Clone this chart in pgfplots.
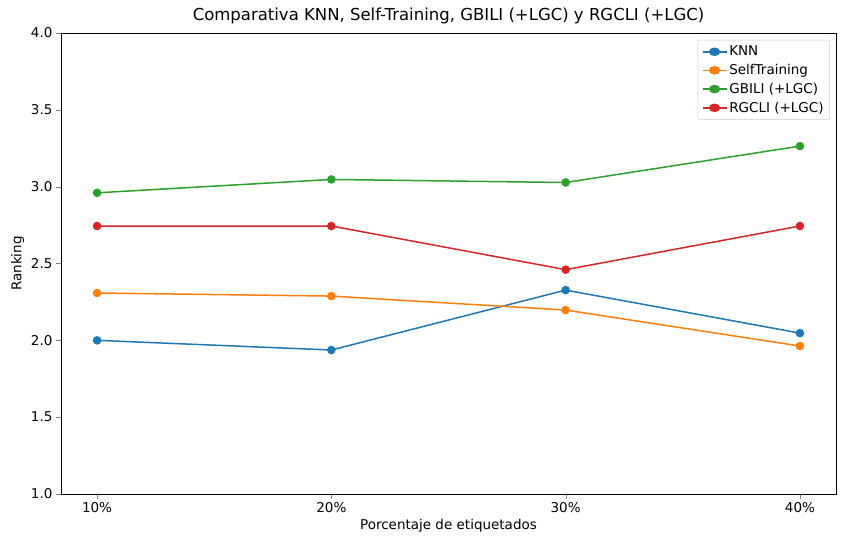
\documentclass[border=0pt]{standalone}
\usepackage{pgfplots}
\pgfplotsset{compat=1.18}
\usepackage{fontspec}
\setmainfont{DejaVu Sans}
\definecolor{c1}{HTML}{1F77B4}
\definecolor{c2}{HTML}{FF7F0E}
\definecolor{c3}{HTML}{2CA02C}
\definecolor{c4}{HTML}{D62728}
\begin{document}
\begin{tikzpicture}
\useasboundingbox (-61pt,-53pt) rectangle (785pt,494pt);
\begin{axis}[
  scale only axis, width=775pt, height=461pt,
  xmin=-0.154, xmax=3.154, ymin=1, ymax=4,
  xtick={0,1,2,3}, xticklabels={10\%,20\%,30\%,40\%},
  ytick={1,1.5,2,2.5,3,3.5,4},
  xtick pos=bottom, ytick pos=left,
  yticklabel style={/pgf/number format/.cd,fixed,fixed zerofill,precision=1},
  /pgf/number format/assume math mode=true,
  tick label style={font=\fontsize{13.5}{15}\selectfont},
  label style={font=\fontsize{13.5}{15}\selectfont},
  xlabel={Porcentaje de etiquetados}, ylabel={Ranking},
  title={Comparativa KNN, Self-Training, GBILI (+LGC) y RGCLI (+LGC)},
  title style={font=\fontsize{16.5}{18}\selectfont},
  tick align=outside, major tick length=5pt,
  legend style={at={(0.992,0.985)}, anchor=north east, font=\fontsize{13.5}{16}\selectfont, draw=black!20, rounded corners=2pt, cells={anchor=west}, row sep=3pt, inner sep=4pt},
  legend image post style={xscale=1.4},
  every axis plot/.append style={line width=1.5pt, mark=*, mark size=3.5pt},
]
\addplot[c1, mark options={fill=c1}] coordinates {(0,2.000)(1,1.937)(2,2.327)(3,2.047)};
\addplot[c2, mark options={fill=c2}] coordinates {(0,2.308)(1,2.288)(2,2.197)(3,1.963)};
\addplot[c3, mark options={fill=c3}] coordinates {(0,2.960)(1,3.047)(2,3.027)(3,3.264)};
\addplot[c4, mark options={fill=c4}] coordinates {(0,2.744)(1,2.744)(2,2.460)(3,2.744)};
\legend{KNN,SelfTraining,GBILI (+LGC),RGCLI (+LGC)}
\end{axis}
\end{tikzpicture}
\end{document}
